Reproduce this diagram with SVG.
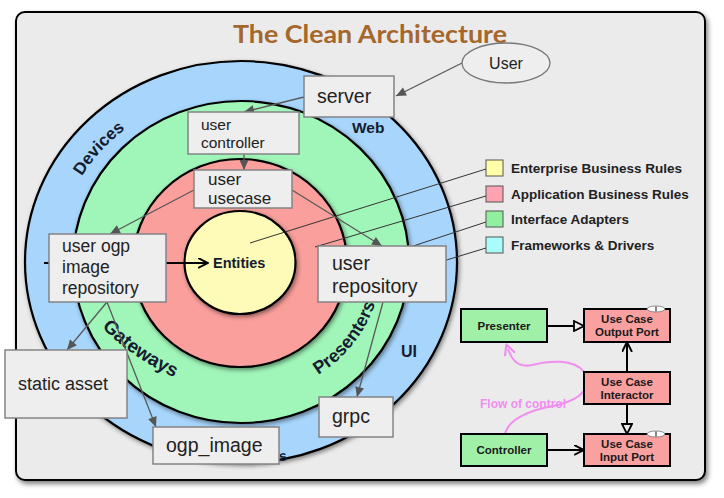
<svg xmlns="http://www.w3.org/2000/svg" width="724" height="498" viewBox="0 0 724 498">
<defs>
<filter id="sh" x="-10%" y="-10%" width="120%" height="120%"><feDropShadow dx="1.5" dy="2" stdDeviation="2" flood-color="#000" flood-opacity="0.45"/></filter>
<filter id="fsh" x="-5%" y="-5%" width="110%" height="110%"><feDropShadow dx="2" dy="3" stdDeviation="2.5" flood-color="#000" flood-opacity="0.5"/></filter>
<marker id="ga" viewBox="0 0 10 10" refX="10" refY="5" markerWidth="12" markerHeight="10" markerUnits="userSpaceOnUse" orient="auto"><path d="M0,0.5 L10,5 L0,9.5 z" fill="#555"/></marker>
<marker id="bv" viewBox="0 0 10 10" refX="9" refY="5" markerWidth="11" markerHeight="11" markerUnits="userSpaceOnUse" orient="auto"><path d="M0,0.5 L9,5 L0,9.5" fill="none" stroke="#000" stroke-width="1.8"/></marker>
<marker id="ht" viewBox="0 0 12 12" refX="11" refY="6" markerWidth="12" markerHeight="12" markerUnits="userSpaceOnUse" orient="auto"><path d="M1,1 L11,6 L1,11 z" fill="#eee" stroke="#000" stroke-width="1.8"/></marker>
<marker id="pv" viewBox="0 0 10 10" refX="5" refY="5" markerWidth="12" markerHeight="12" markerUnits="userSpaceOnUse" orient="auto"><path d="M0,0.5 L9,5 L0,9.5" fill="none" stroke="#f08ef0" stroke-width="1.8"/></marker>
<path id="pDev" d="M 57 262 A 184 171 0 0 1 241 91" fill="none"/>
<path id="pGat" d="M 88 311 Q 124 358 194 386" fill="none"/>
<path id="pPre" d="M 241 397 A 141 135 0 0 0 382 262" fill="none"/>
</defs>
<style>
.box{fill:#eeeeee;stroke:#848484;stroke-width:1.5}
.bt{font-family:"Liberation Sans",Arial,sans-serif;fill:#222;}
.ring{stroke:#000;stroke-width:2.2;filter:url(#sh)}
.rl{font-family:"Liberation Sans",Arial,sans-serif;font-weight:bold;fill:#151c30}
.lg{font-family:"Liberation Sans",Arial,sans-serif;font-weight:bold;font-size:13.5px;fill:#222}
.sq{stroke:#555;stroke-width:1}
.ft{font-family:"Liberation Sans",Arial,sans-serif;font-weight:bold;font-size:11.5px;fill:#1a1a1a;text-anchor:middle}
.fb{stroke:#000;stroke-width:2}
.gc{stroke:#5a5a5a;stroke-width:1.3;fill:none;marker-end:url(#ga)}
.ll{stroke:#333;stroke-width:1;fill:none}
.fa{stroke:#000;stroke-width:2;fill:none}
</style>

<g id="frame">
<rect x="16" y="12" width="689" height="468" rx="9" fill="#ebebeb" stroke="#000" stroke-width="2" filter="url(#fsh)"/>
<text x="370" y="43" text-anchor="middle" font-family="Lato,'Open Sans',sans-serif" font-weight="bold" font-size="25" fill="#a5672b" textLength="274" lengthAdjust="spacingAndGlyphs">The Clean Architecture</text>
</g>

<g id="rings">
<ellipse class="ring" cx="241" cy="262" rx="216" ry="201" fill="#a7d5fb"/>
<ellipse class="ring" cx="241" cy="262" rx="168" ry="161" fill="#a0f5b8"/>
<ellipse class="ring" cx="240" cy="263" rx="107" ry="104" fill="#fa9f9b"/>
<ellipse class="ring" cx="240" cy="262.5" rx="55.5" ry="51.5" fill="#fdfbb7"/>
<text class="rl" font-size="17"><textPath href="#pDev" startOffset="44%" text-anchor="middle">Devices</textPath></text>
<text class="rl" font-size="19" fill="#0a0a0a"><textPath href="#pGat" startOffset="50%" text-anchor="middle">Gateways</textPath></text>
<text class="rl" font-size="18" fill="#0a0a0a"><textPath href="#pPre" startOffset="59%" text-anchor="middle">Presenters</textPath></text>
<text class="rl" x="352" y="133" font-size="15.5">Web</text>
<text class="rl" x="401" y="357" font-size="16">UI</text>
<text class="rl" x="279" y="461" font-size="14" transform="rotate(-12 282 457)">s</text>
<text class="rl" x="213" y="268" font-size="14.5" fill="#111">Entities</text>
</g>

<g id="legend">
<rect class="sq" x="486" y="160" width="17" height="16" fill="#ffffa8"/>
<rect class="sq" x="486" y="186" width="17" height="16" fill="#ffa3b3"/>
<rect class="sq" x="486" y="211" width="17" height="16" fill="#90f0a0"/>
<rect class="sq" x="486" y="237" width="17" height="16" fill="#a8fcfc"/>
<text class="lg" x="511" y="173">Enterprise Business Rules</text>
<text class="lg" x="511" y="199">Application Business Rules</text>
<text class="lg" x="511" y="224">Interface Adapters</text>
<text class="lg" x="511" y="250">Frameworks &amp; Drivers</text>
</g>

<g id="connectors">
<line class="ll" x1="486" y1="169" x2="250" y2="243"/>
<line class="ll" x1="486" y1="196" x2="315" y2="247"/>
<line class="ll" x1="486" y1="222" x2="395" y2="252"/>
<line class="ll" x1="486" y1="248" x2="440" y2="262"/>
<line class="fa" x1="44" y1="263" x2="208" y2="263" marker-end="url(#bv)"/>
<line class="gc" x1="462" y1="63" x2="396" y2="96"/>
<line class="gc" x1="304" y1="97" x2="244" y2="112"/>
<line class="gc" x1="244" y1="154" x2="244" y2="170"/>
<line class="gc" x1="194" y1="190" x2="110" y2="234"/>
<line class="gc" x1="292" y1="190" x2="382" y2="246"/>
<line class="gc" x1="107" y1="302" x2="67" y2="350"/>
<line class="gc" x1="107" y1="302" x2="156" y2="427"/>
<line class="gc" x1="383" y1="302" x2="357" y2="397"/>
<line class="fa" x1="547" y1="326" x2="584" y2="326" marker-end="url(#ht)"/>
<line class="fa" x1="547" y1="450" x2="584" y2="450" marker-end="url(#bv)"/>
<line class="fa" x1="627" y1="372" x2="627" y2="342" marker-end="url(#bv)"/>
<line class="fa" x1="627" y1="404" x2="627" y2="434" marker-end="url(#ht)"/>
<path d="M505,434 C508,420 528,410 558,405 C584,398 592,386 584,372 C574,358 548,361 532,365 C518,368 512,360 508,349" fill="none" stroke="#f08ef0" stroke-width="2" marker-end="url(#pv)"/>
</g>

<g id="user">
<ellipse cx="506" cy="63" rx="44" ry="20" fill="#eeeeee" stroke="#777" stroke-width="1.3"/>
<text class="bt" x="506" y="69" font-size="16" text-anchor="middle">User</text>
</g>
<g id="server">
<rect class="box" x="304" y="76" width="90" height="41"/>
<text class="bt" x="317" y="103" font-size="19.5">server</text>
</g>
<g id="user-controller">
<rect class="box" x="188" y="112" width="111" height="42"/>
<text class="bt" x="201" y="130" font-size="15.5">user</text>
<text class="bt" x="201" y="148" font-size="15.5">controller</text>
</g>
<g id="user-usecase">
<rect class="box" x="194" y="170" width="98" height="38"/>
<text class="bt" x="208" y="185" font-size="17">user</text>
<text class="bt" x="208" y="204" font-size="17">usecase</text>
</g>
<g id="user-ogp-image-repository">
<rect class="box" x="49" y="234" width="117" height="68"/>
<text class="bt" x="62" y="252" font-size="17.5">user ogp</text>
<text class="bt" x="62" y="273" font-size="17.5">image</text>
<text class="bt" x="62" y="294" font-size="17.5">repository</text>
</g>
<g id="user-repository">
<rect class="box" x="318" y="246" width="128" height="56"/>
<text class="bt" x="332" y="270" font-size="19.5">user</text>
<text class="bt" x="332" y="293" font-size="19.5">repository</text>
</g>
<g id="static-asset">
<rect class="box" x="5" y="350" width="122" height="68"/>
<text class="bt" x="18" y="390" font-size="18">static asset</text>
</g>
<g id="ogp-image">
<rect class="box" x="153" y="427" width="126" height="37"/>
<text class="bt" x="166" y="452" font-size="19.5">ogp_image</text>
</g>
<g id="grpc">
<rect class="box" x="319" y="397" width="74" height="40"/>
<text class="bt" x="332" y="423" font-size="19.5">grpc</text>
</g>

<g id="presenter">
<rect class="fb" x="461" y="309" width="86" height="33" fill="#a0f0a8"/>
<text class="ft" x="504" y="330">Presenter</text>
</g>
<g id="controller">
<rect class="fb" x="461" y="434" width="86" height="32" fill="#a0f0a8"/>
<text class="ft" x="504" y="454">Controller</text>
</g>
<g id="use-case-output-port">
<rect class="fb" x="584" y="309" width="86" height="33" fill="#f9a0a0"/>
<ellipse cx="656" cy="309" rx="9" ry="3" fill="#fff" stroke="#777" stroke-width="0.8"/>
<line x1="656" y1="306.5" x2="656" y2="311.5" stroke="#333" stroke-width="1.2"/>
<text class="ft" x="627" y="323">Use Case</text>
<text class="ft" x="627" y="336">Output Port</text>
</g>
<g id="use-case-interactor">
<rect class="fb" x="584" y="372" width="86" height="32" fill="#f9a0a0"/>
<text class="ft" x="627" y="386">Use Case</text>
<text class="ft" x="627" y="399">Interactor</text>
</g>
<g id="use-case-input-port">
<rect class="fb" x="584" y="434" width="86" height="32" fill="#f9a0a0"/>
<ellipse cx="656" cy="434" rx="9" ry="3" fill="#fff" stroke="#777" stroke-width="0.8"/>
<line x1="656" y1="431.5" x2="656" y2="436.5" stroke="#333" stroke-width="1.2"/>
<text class="ft" x="627" y="448">Use Case</text>
<text class="ft" x="627" y="461">Input Port</text>
</g>
<g id="flow-label">
<text x="480" y="408" font-family="'Liberation Sans',Arial,sans-serif" font-weight="bold" font-size="12" fill="#f08ef0">Flow of control</text>
</g>
</svg>
